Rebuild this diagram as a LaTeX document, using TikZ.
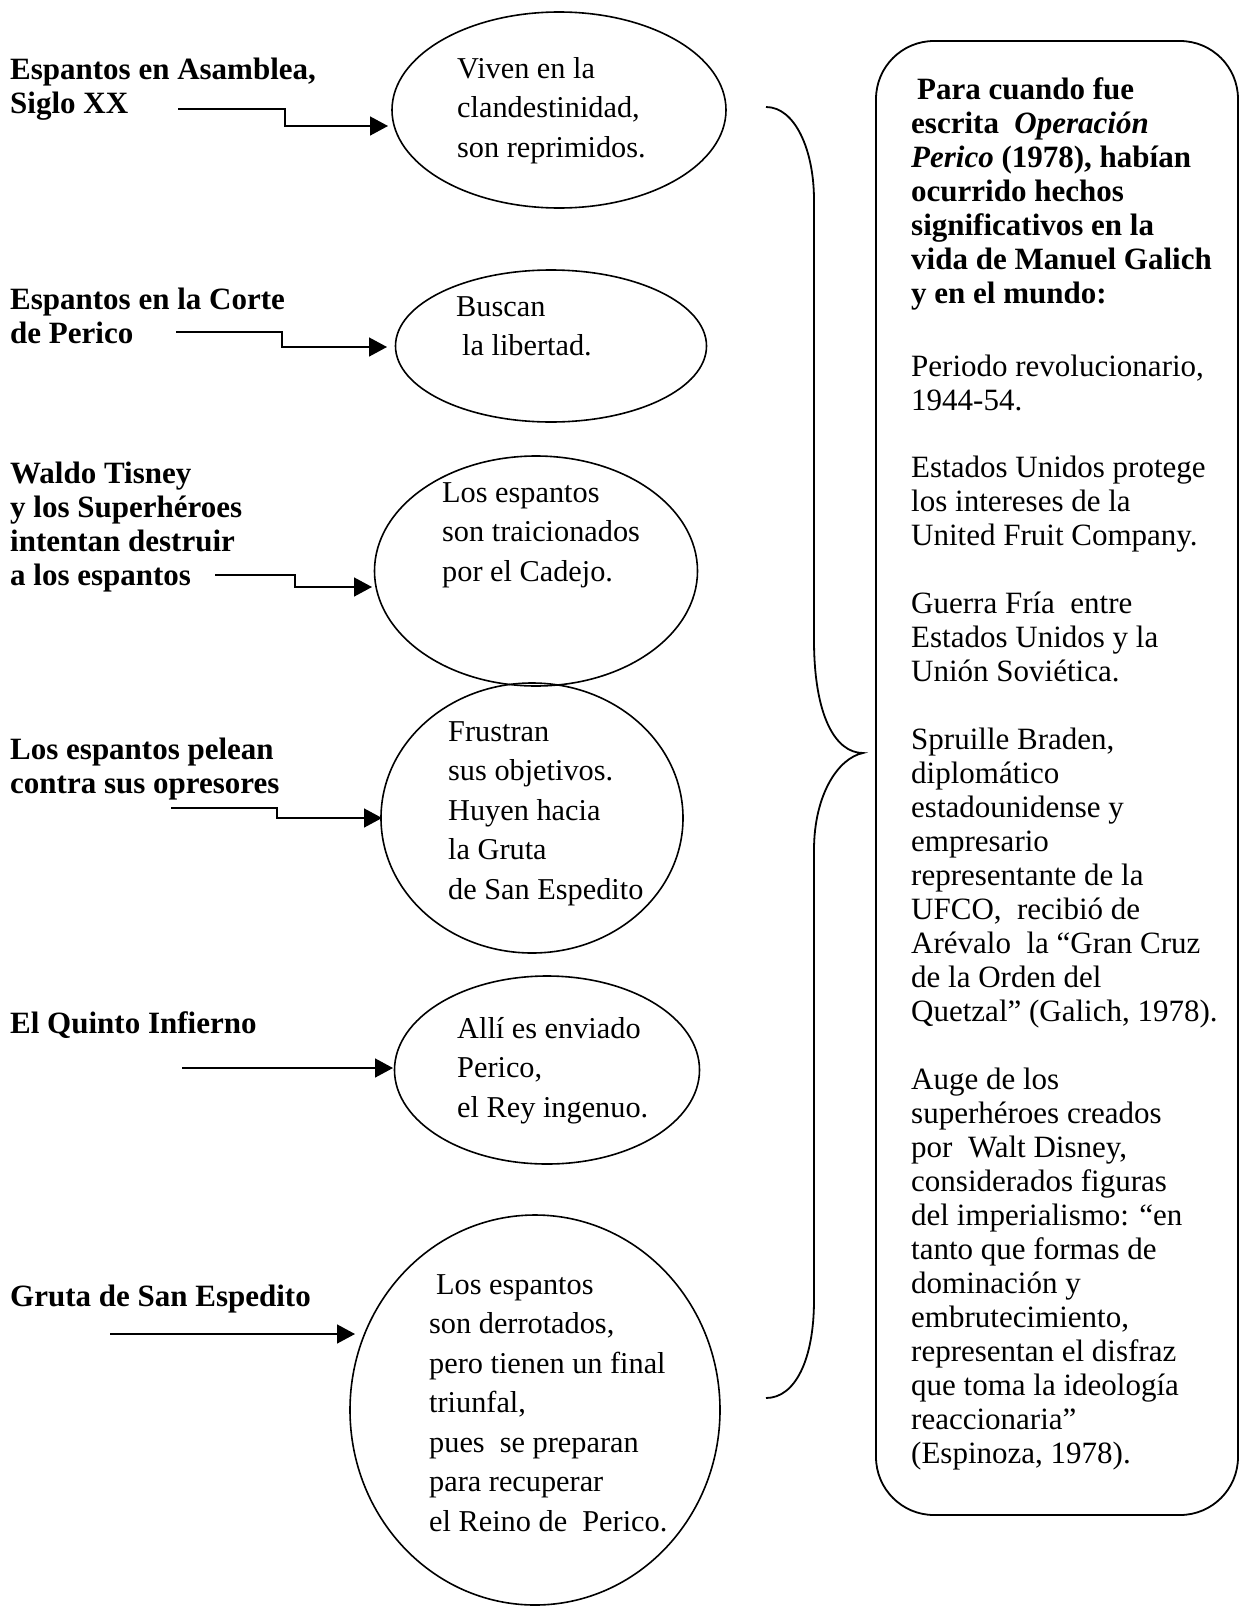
\documentclass[tikz,border=0pt]{standalone}
\usepackage{fontspec}
\setmainfont{Liberation Serif}
\usetikzlibrary{shapes.geometric,arrows.meta}
\newcommand\mylines[1]{\begin{tabular}[t]{@{}l@{}}#1\end{tabular}}
\begin{document}
\begin{tikzpicture}[x=1pt,y=-1pt,
  lbl/.style={font=\bfseries\fontsize{31}{34}\selectfont, anchor=base west, inner sep=0pt},
  etx/.style={font=\fontsize{30.3}{39.5}\selectfont, anchor=base west, inner sep=0pt},
  btx/.style={font=\fontsize{31}{34}\selectfont, anchor=base west, inner sep=0pt},
  oval/.style={draw, ellipse, line width=1.6pt, inner sep=0pt},
  arr/.style={line width=1.5pt, -{Triangle[length=18pt,width=19pt]}},
  bracestyle/.style={line width=1.8pt},
  infobox/.style={draw, rectangle, rounded corners=58pt, line width=1.8pt, inner sep=0pt}]
\useasboundingbox (0,0) rectangle (1245,1606);

% left labels
\node[lbl] (l1) at (10,79) {\mylines{Espantos en Asamblea,\\Siglo XX}};
\node[lbl] (l2) at (10,309) {\mylines{Espantos en la Corte\\de Perico}};
\node[lbl] (l3) at (10,483) {\mylines{Waldo Tisney\\y los Superhéroes\\intentan destruir\\a los espantos}};
\node[lbl] (l4) at (10,759) {\mylines{Los espantos pelean\\contra sus opresores}};
\node[lbl] (l5) at (10,1033) {El Quinto Infierno};
\node[lbl] (l6) at (10,1306) {Gruta de San Espedito};

% ellipses
\node[oval, minimum width=334pt, minimum height=196pt] (e1) at (559,110) {};
\node[oval, minimum width=311pt, minimum height=152pt] (e2) at (551,346) {};
\node[oval, minimum width=323pt, minimum height=230pt] (e3) at (536,571) {};
\node[oval, minimum width=302pt, minimum height=270pt] (e4) at (532,818) {};
\node[oval, minimum width=305pt, minimum height=188pt] (e5) at (547,1070) {};
\node[oval, minimum width=370pt, minimum height=390pt] (e6) at (535,1410) {};

% ellipse texts
\node[etx] (t1) at (457,78) {\mylines{Viven en la\\clandestinidad,\\son reprimidos.}};
\node[etx] (t2) at (456,316) {\mylines{Buscan\\\hspace{6pt}la libertad.}};
\node[etx] (t3) at (442,502) {\mylines{Los espantos\\son traicionados\\por el Cadejo.}};
\node[etx] (t4) at (448,741) {\mylines{Frustran\\sus objetivos.\\Huyen hacia\\la Gruta\\de San Espedito}};
\node[etx] (t5) at (457,1038) {\mylines{Allí es enviado\\Perico,\\el Rey ingenuo.}};
\node[etx] (t6) at (429,1294) {\mylines{\hspace{7pt}Los espantos\\son derrotados,\\pero tienen un final\\triunfal,\\pues\ \ se preparan\\para recuperar\\el Reino de\ \ Perico.}};

% arrows
\coordinate (s1) at (178,109);  \coordinate (h1) at (388,126);
\coordinate (s2) at (176,332);  \coordinate (h2) at (387,347);
\coordinate (s3) at (215,575);  \coordinate (h3) at (372,587);
\coordinate (s4) at (171,808);  \coordinate (h4) at (382,818);
\coordinate (s5) at (182,1068); \coordinate (h5) at (393,1068);
\coordinate (s6) at (110,1334); \coordinate (h6) at (355,1334);
\draw[arr] (s1) -- (285,109) |- (h1);
\draw[arr] (s2) -- (282,332) |- (h2);
\draw[arr] (s3) -- (295,575) |- (h3);
\draw[arr] (s4) -- (277,808) |- (h4);
\draw[arr] (s5) -- (h5);
\draw[arr] (s6) -- (h6);

% brace
\coordinate (bt) at (766,107);
\coordinate (bm) at (863,753);
\coordinate (bb) at (766,1398);
\draw[bracestyle] (bt) .. controls (795,107) and (814,150) .. (814,200)
  -- (814,640) .. controls (814,715) and (835,753) .. (bm)
  .. controls (838,758) and (814,795) .. (814,850)
  -- (814,1300) .. controls (814,1360) and (795,1398) .. (bb);

% right box
\node[infobox, minimum width=362pt, minimum height=1474pt] (box) at (1057,778) {};
\node[lbl] (b0) at (911,99) {\mylines{\hspace{6pt}Para cuando fue\\escrita\ \ \textit{Operación}\\\textit{Perico} (1978), habían\\ocurrido hechos\\significativos en la\\vida de Manuel Galich\\y en el mundo:}};
\node[btx] (b1) at (911,376) {\mylines{Periodo revolucionario,\\1944-54.}};
\node[btx] (b2) at (911,477) {\mylines{Estados Unidos protege\\los intereses de la\\United Fruit Company.}};
\node[btx] (b3) at (911,613) {\mylines{Guerra Fría\ \ entre\\Estados Unidos y la\\Unión Soviética.}};
\node[btx] (b4) at (911,749) {\mylines{Spruille Braden,\\diplomático\\estadounidense y\\empresario\\representante de la\\UFCO,\ \ recibió de\\Arévalo\ \ la “Gran Cruz\\de la Orden del\\Quetzal” (Galich, 1978).}};
\node[btx] (b5) at (911,1089) {\mylines{Auge de los\\superhéroes creados\\por\ \ Walt Disney,\\considerados figuras\\del imperialismo: “en\\tanto que formas de\\dominación y\\embrutecimiento,\\representan el disfraz\\que toma la ideología\\reaccionaria”\\(Espinoza, 1978).}};
\end{tikzpicture}
\end{document}
